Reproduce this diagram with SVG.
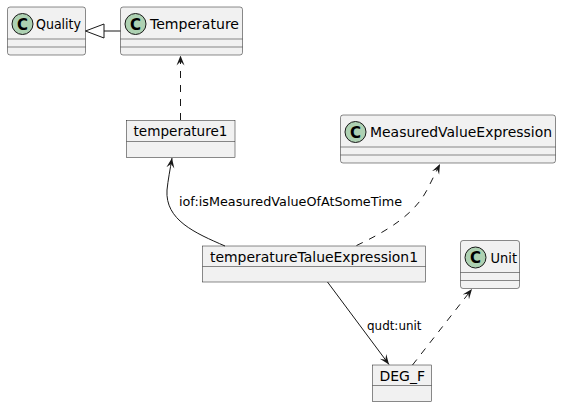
<svg xmlns="http://www.w3.org/2000/svg" width="561" height="406" viewBox="0 0 561 406">
<style>
.box{fill:#F1F1F1;stroke:#181818;stroke-width:0.5}
.sep{stroke:#181818;stroke-width:0.5}
.circ{fill:#ADD1B2;stroke:#181818;stroke-width:1}
.c{font-family:"DejaVu Sans",sans-serif;font-size:15px;font-weight:bold;fill:#000;text-anchor:middle}
.name{font-family:"DejaVu Sans",sans-serif;font-size:14px;fill:#000}
.lbl{font-family:"DejaVu Sans",sans-serif;font-size:13px;fill:#000}
.ln{fill:none;stroke:#181818;stroke-width:1}
.dash{stroke-dasharray:7,7}
</style>
<defs>
<marker id="arr" viewBox="0 0 10 10" refX="10" refY="5" markerWidth="10" markerHeight="10" markerUnits="userSpaceOnUse" orient="auto">
<path d="M10,5 L0,1 L4,5 L0,9 Z" fill="#181818"/>
</marker>
</defs>
<rect width="561" height="406" fill="#FFFFFF"/>
<g id="Quality">
<rect class="box" x="7.5" y="7" width="78" height="48" rx="2.5"/>
<line class="sep" x1="7.5" y1="39" x2="85.5" y2="39"/>
<line class="sep" x1="7.5" y1="47" x2="85.5" y2="47"/>
<circle class="circ" cx="22.5" cy="24" r="10.5"/>
<text class="c" x="22.5" y="29.5">C</text>
<text class="name" x="36" y="29" textLength="45" lengthAdjust="spacingAndGlyphs">Quality</text>
</g>
<g id="Temperature">
<rect class="box" x="120.5" y="7" width="122" height="48" rx="2.5"/>
<line class="sep" x1="120.5" y1="39" x2="242.5" y2="39"/>
<line class="sep" x1="120.5" y1="47" x2="242.5" y2="47"/>
<circle class="circ" cx="135.5" cy="24" r="10.5"/>
<text class="c" x="135.5" y="29.5">C</text>
<text class="name" x="150" y="29" textLength="89" lengthAdjust="spacingAndGlyphs">Temperature</text>
</g>
<g id="temperature1">
<rect class="box" x="126.5" y="120.5" width="108.5" height="37"/>
<line class="sep" x1="126.5" y1="141.5" x2="235" y2="141.5"/>
<text class="name" x="133.5" y="136" textLength="94" lengthAdjust="spacingAndGlyphs">temperature1</text>
</g>
<g id="MeasuredValueExpression">
<rect class="box" x="340.5" y="115" width="215" height="48" rx="2.5"/>
<line class="sep" x1="340.5" y1="147" x2="555.5" y2="147"/>
<line class="sep" x1="340.5" y1="155" x2="555.5" y2="155"/>
<circle class="circ" cx="355.5" cy="132" r="10.5"/>
<text class="c" x="355.5" y="137.5">C</text>
<text class="name" x="370" y="137" textLength="182" lengthAdjust="spacingAndGlyphs">MeasuredValueExpression</text>
</g>
<g id="temperatureTalueExpression1">
<rect class="box" x="202.5" y="246" width="223" height="36"/>
<line class="sep" x1="202.5" y1="266.5" x2="425.5" y2="266.5"/>
<text class="name" x="210" y="261.5" textLength="208" lengthAdjust="spacingAndGlyphs">temperatureTalueExpression1</text>
</g>
<g id="Unit">
<rect class="box" x="460.5" y="240.5" width="59" height="48" rx="2.5"/>
<line class="sep" x1="460.5" y1="272.5" x2="519.5" y2="272.5"/>
<line class="sep" x1="460.5" y1="280.5" x2="519.5" y2="280.5"/>
<circle class="circ" cx="475.5" cy="257.5" r="10.5"/>
<text class="c" x="475.5" y="263">C</text>
<text class="name" x="490.5" y="262.5" textLength="26.5" lengthAdjust="spacingAndGlyphs">Unit</text>
</g>
<g id="DEG_F">
<rect class="box" x="372.5" y="365" width="59" height="36.5"/>
<line class="sep" x1="372.5" y1="385.5" x2="431.5" y2="385.5"/>
<text class="name" x="379.5" y="381" textLength="45.5" lengthAdjust="spacingAndGlyphs">DEG_F</text>
</g>
<g id="connectors">
<line class="ln" x1="120.5" y1="31" x2="104" y2="31"/>
<polygon points="85.5,31 104,24 104,38" fill="none" stroke="#181818" stroke-width="1"/>
<line class="ln dash" x1="180.5" y1="120" x2="180.5" y2="55.5" marker-end="url(#arr)"/>
<path class="ln" d="M225,246 C195,233 165,220 167,190 C168,180 170,170 172,158" marker-end="url(#arr)"/>
<text class="lbl" x="179" y="206" textLength="223" lengthAdjust="spacingAndGlyphs">iof:isMeasuredValueOfAtSomeTime</text>
<path class="ln dash" d="M356.5,245.5 C385,232 415,215 428,188 C432,180 436,172 440,164" marker-end="url(#arr)"/>
<line class="ln" x1="327.5" y1="282" x2="389" y2="364.5" marker-end="url(#arr)"/>
<text class="lbl" x="367" y="330" textLength="54.5" lengthAdjust="spacingAndGlyphs">qudt:unit</text>
<line class="ln dash" x1="412.5" y1="365" x2="472" y2="289" marker-end="url(#arr)"/>
</g>
</svg>
